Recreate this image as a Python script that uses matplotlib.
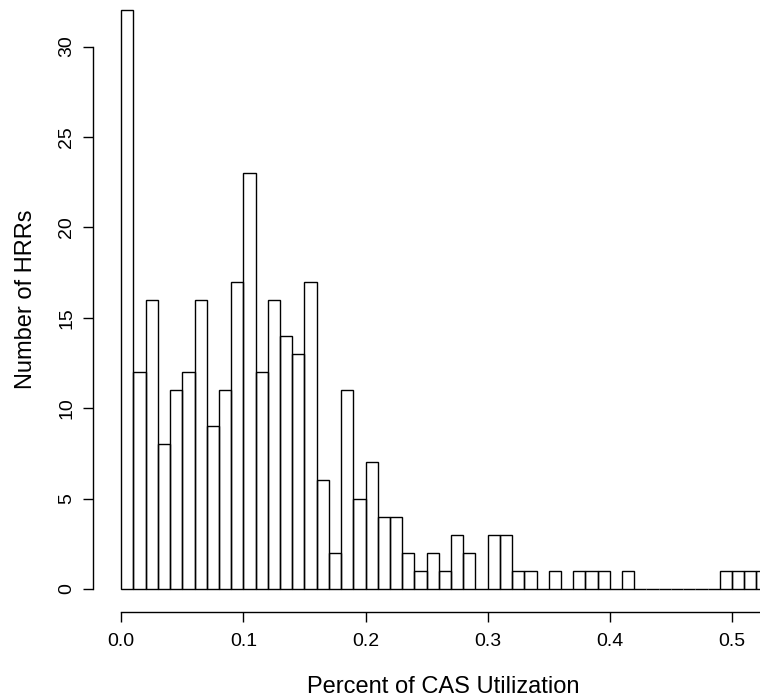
import matplotlib
matplotlib.use("Agg")
import matplotlib.pyplot as plt
import numpy as np

plt.rcParams['font.family'] = ['Liberation Sans', 'DejaVu Sans']

# Histogram counts per bin of width 0.01 starting at 0.00
bin_width = 0.01
counts = [32, 12, 16, 8, 11, 12, 16, 9, 11, 17,
          23, 12, 16, 14, 13, 17, 6, 2, 11, 5,
          7, 4, 4, 2, 1, 2, 1, 3, 2, 0,
          3, 3, 1, 1, 0, 1, 0, 1, 1, 1,
          0, 1, 0, 0, 0, 0, 0, 0, 0, 1,
          1, 1, 1]
x_ticks = [0.0, 0.1, 0.2, 0.3, 0.4, 0.5]
x_tick_labels = ["0.0", "0.1", "0.2", "0.3", "0.4", "0.5"]
y_ticks = [0, 5, 10, 15, 20, 25, 30]
x_label = "Percent of CAS Utilization"
y_label = "Number of HRRs"

lefts = np.arange(len(counts)) * bin_width

fig = plt.figure(figsize=(7.6, 7.0), dpi=100)
W, H = 760, 700
px_left, px_right = 93.3, 793.0
px_bottom, px_top = 612.1, -12.7
ax = fig.add_axes([px_left / W, (H - px_bottom) / H,
                   (px_right - px_left) / W, (px_bottom - px_top) / H])

ax.bar(lefts, counts, width=bin_width, align='edge', fill=False,
       edgecolor='black', linewidth=1.0)

ax.set_xlim(-0.0229, 0.55)
ax.set_ylim(-1.28, 33.28)

for s in ['top', 'right']:
    ax.spines[s].set_visible(False)
ax.spines['left'].set_bounds(0, 30)
ax.spines['bottom'].set_bounds(0, 0.6)
ax.spines['left'].set_linewidth(1.0)
ax.spines['bottom'].set_linewidth(1.0)

ax.set_xticks(x_ticks)
ax.set_xticklabels(x_tick_labels)
ax.set_yticks(y_ticks)
ax.tick_params(axis='both', direction='out', length=7.5, width=1.0,
               labelsize=14)
ax.tick_params(axis='x', pad=7.5)
ax.tick_params(axis='y', pad=5.5)
for lab in ax.get_yticklabels():
    lab.set_rotation(90)
    lab.set_va('center')

ax.set_xlabel(x_label, fontsize=17, labelpad=19)
ax.set_ylabel(y_label, fontsize=17, labelpad=15.5)

fig.savefig("out.png", dpi=100)
